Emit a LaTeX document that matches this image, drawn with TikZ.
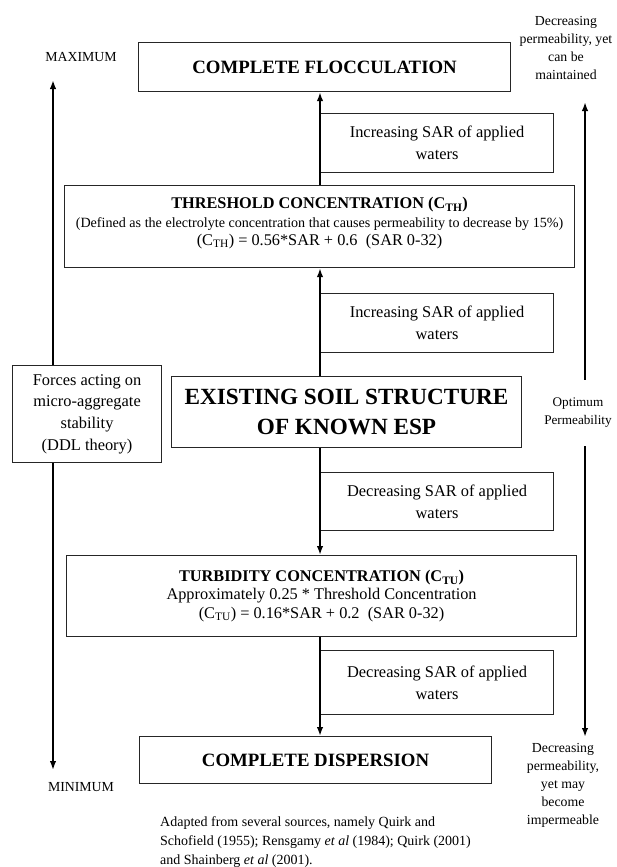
\documentclass[tikz,border=0pt]{standalone}
\usepackage{fontspec}
\setmainfont{Liberation Serif}
\usetikzlibrary{positioning}
\usetikzlibrary{arrows.meta}

\tikzset{
  box/.style={draw=black!85, line width=1.1pt, fill=white, align=center, inner sep=1pt, anchor=north west},
  sarbox/.style={box, minimum width=233pt, minimum height=59pt, font=\fontsize{16.4}{22}\selectfont},
  titlebox/.style={box, font=\fontsize{18.8}{22}\selectfont\bfseries},
  concbox/.style={box, minimum width=510pt, minimum height=82pt, font=\fontsize{16.3}{18.3}\selectfont},
  flow/.style={line width=1.8pt, -{Latex[length=9pt,width=6.5pt]}},
  sidetext/.style={align=center, inner sep=0pt, font=\fontsize{13.8}{18}\selectfont},
}

\begin{document}
\begin{tikzpicture}[x=1pt,y=-1pt]
\useasboundingbox (0,0) rectangle (616,867);

% main column
\node[titlebox, minimum width=372pt, minimum height=49pt] (flocc) at (138,42) {COMPLETE FLOCCULATION};
\node[sarbox] (incA) at (320,113) {Increasing SAR of applied\\waters};
\node[concbox] (thresh) at (64,185) {{\bfseries THRESHOLD CONCENTRATION (C\textsubscript{TH})}\\
  {\fontsize{14.1}{18}\selectfont (Defined as the electrolyte concentration that causes permeability to decrease by 15\%)}\\
  (C\textsubscript{TH}) = 0.56*SAR + 0.6\enspace(SAR 0-32)\\[-8pt]\mbox{}};
\node[sarbox] (incB) at (320,293) {Increasing SAR of applied\\waters};
\node[box, minimum width=350pt, minimum height=71pt, font=\fontsize{23.2}{30}\selectfont\bfseries] (existing) at (171,376) {EXISTING SOIL STRUCTURE\\OF KNOWN ESP};
\node[sarbox, minimum height=58pt] (decA) at (320,472) {Decreasing SAR of applied\\waters};
\node[concbox, minimum height=81pt] (turb) at (66,555) {{\bfseries TURBIDITY CONCENTRATION (C\textsubscript{TU})}\\
  Approximately 0.25 * Threshold Concentration\\
  (C\textsubscript{TU}) = 0.16*SAR + 0.2\enspace(SAR 0-32)};
\node[sarbox, minimum height=64pt] (decB) at (320,650) {Decreasing SAR of applied\\waters};
\node[titlebox, minimum width=352pt, minimum height=47pt] (disp) at (139,736) {COMPLETE DISPERSION};

% left scale
\node[box, minimum width=149pt, minimum height=97pt, font=\fontsize{16.4}{21.7}\selectfont] (forces) at (12,365) {Forces acting on\\micro-aggregate\\stability\\(DDL theory)};
\node[sidetext] (maxlbl) at (81,57) {MAXIMUM};
\node[sidetext] (minlbl) at (81,787) {MINIMUM};

% right scale
\node[sidetext] (keepnote) at (566,48) {Decreasing\\permeability, yet\\can be\\maintained};
\node[sidetext, minimum height=66pt, font=\fontsize{13.2}{18}\selectfont] (optimum) at (578,413) {Optimum\\Permeability};
\node[sidetext] (sealnote) at (563,785) {Decreasing\\permeability,\\yet may\\become\\impermeable};

\node[align=left, inner sep=0pt, anchor=north west, font=\fontsize{14}{19}\selectfont] (source) at (160,816) {Adapted from several sources, namely Quirk and\\Schofield (1955); Rensgamy \textit{et al} (1984); Quirk (2001)\\and Shainberg \textit{et al} (2001).};

\coordinate (spine) at (320,0);
\coordinate (maxtip) at (53,80);
\coordinate (mintip) at (53,770);
\coordinate (rtop) at (585,102);
\coordinate (rbot) at (585,737);

\draw[flow] (thresh.north -| spine) -- (flocc.south -| spine);
\draw[flow] (existing.north -| spine) -- (thresh.south -| spine);
\draw[flow] (existing.south -| spine) -- (turb.north -| spine);
\draw[flow] (turb.south -| spine) -- (disp.north -| spine);

\draw[flow] (forces.north -| maxtip) -- (maxtip);
\draw[flow] (forces.south -| mintip) -- (mintip);
\draw[flow] (optimum.north -| rtop) -- (rtop);
\draw[flow] (optimum.south -| rbot) -- (rbot);

\end{tikzpicture}
\end{document}
